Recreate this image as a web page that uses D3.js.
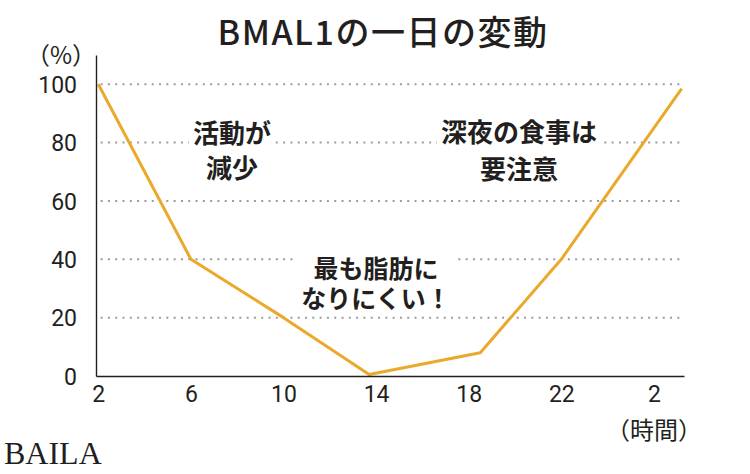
<!DOCTYPE html>
<html>
<head>
<meta charset="utf-8">
<script src="https://cdn.jsdelivr.net/npm/d3@7"></script>
<style>
  html, body { margin: 0; padding: 0; background: #fff; }
  svg { display: block; }
</style>
</head>
<body>
<div id="chart"></div>
<script>
// データ
var hours = [2, 6, 10, 13.7, 18.5, 22, 27.2]
var bmal1 = [100, 40, 20, 0.5, 8, 40, 98.5]
var yTicks = [0, 20, 40, 60, 80, 100]
var gridValues = [20, 40, 60, 80, 100]
var xTicks = [2, 6, 10, 14, 18, 22, 26]
var xTickLabels = ['2', '6', '10', '14', '18', '22', '2']
var noteLines = [
  ['活動が', '減少'],
  ['深夜の食事は', '要注意'],
  ['最も脂肪に', 'なりにくい！']
]

var width = 750, height = 474
var ink = '#231f20'
var lineColor = '#eaa92a'
var jp = '"Noto Sans CJK JP", "Noto Sans", sans-serif'
var num = '"Liberation Sans Narrow", "Roboto", sans-serif'

var svg = d3.select('#chart')
  .append('svg')
  .attr('width', width)
  .attr('height', height)

var x = d3.scaleLinear().domain([1.9, 27.3]).range([96, 684])
var y = d3.scaleLinear().domain([0, 110]).range([376, 55])

// タイトル
svg.append('text')
  .attr('x', 383)
  .attr('y', 45)
  .attr('text-anchor', 'middle')
  .attr('fill', ink)
  .style('font-family', jp)
  .style('font-size', '34px')
  .style('font-weight', 500)
  .style('letter-spacing', '1.5px')
  .text('BMAL1の一日の変動')

// 点線のグリッド
svg.append('g')
  .selectAll('line')
  .data(gridValues)
  .enter()
  .append('line')
  .attr('x1', x(2.1))
  .attr('x2', x(27.2))
  .attr('y1', d => y(d))
  .attr('y2', d => y(d))
  .attr('stroke', '#9c9c9c')
  .attr('stroke-width', 2)
  .attr('stroke-dasharray', '2,5.3')

// 注釈（白い背景でグリッドを隠す）
var notePos = [
  {cx: 232, cy: 131, gap: 35, size: 26},
  {cx: 519, cy: 130, gap: 37, size: 26},
  {cx: 376, cy: 267, gap: 30, size: 25}
]
noteLines.forEach(function(lines, i) {
  var p = notePos[i]
  var g = svg.append('g')
  var t = g.selectAll('text')
    .data(lines)
    .enter()
    .append('text')
    .attr('x', p.cx)
    .attr('y', (d, j) => p.cy + j * p.gap)
    .attr('text-anchor', 'middle')
    .attr('dominant-baseline', 'central')
    .attr('fill', ink)
    .style('font-family', jp)
    .style('font-size', p.size + 'px')
    .style('font-weight', 700)
    .text(d => d)
  var b = g.node().getBBox()
  g.insert('rect', 'text')
    .attr('x', b.x - 4)
    .attr('y', b.y + 4)
    .attr('width', b.width + 8)
    .attr('height', b.height - 8)
    .attr('fill', '#fff')
})

// 折れ線
var points = hours.map((h, i) => [h, bmal1[i]])
svg.append('path')
  .datum(points)
  .attr('fill', 'none')
  .attr('stroke', lineColor)
  .attr('stroke-width', 3)
  .attr('stroke-linejoin', 'round')
  .attr('d', d3.line().x(d => x(d[0])).y(d => y(d[1])))

// 軸
var yAxis = svg.append('g')
  .attr('transform', 'translate(' + x(1.9) + ',0)')
  .call(d3.axisLeft(y).tickValues(yTicks).tickSize(0).tickPadding(19))
var xAxis = svg.append('g')
  .attr('transform', 'translate(0,' + y(0) + ')')
  .call(d3.axisBottom(x).tickValues(xTicks).tickSize(0).tickPadding(10)
    .tickFormat((d, i) => xTickLabels[i]))

;[xAxis, yAxis].forEach(function(a) {
  a.select('.domain').attr('stroke', ink).attr('stroke-width', 1.4)
  a.selectAll('text')
    .attr('fill', ink)
    .style('font-family', num)
    .style('font-size', '23px')
})
yAxis.selectAll('text').attr('dy', '0.36em')
xAxis.selectAll('text').attr('dy', '0.71em')

// 単位
svg.append('text')
  .attr('x', 61)
  .attr('y', 53)
  .attr('text-anchor', 'middle')
  .attr('dominant-baseline', 'central')
  .attr('fill', ink)
  .style('font-family', jp)
  .style('font-size', '24px')
  .text('（%）')

svg.append('text')
  .attr('x', 654)
  .attr('y', 428)
  .attr('text-anchor', 'middle')
  .attr('dominant-baseline', 'central')
  .attr('fill', ink)
  .style('font-family', jp)
  .style('font-size', '24px')
  .text('（時間）')

// ロゴ
svg.append('text')
  .attr('x', 4)
  .attr('y', 464)
  .attr('fill', ink)
  .style('font-family', '"Liberation Serif", "DejaVu Serif", serif')
  .style('font-size', '32px')
  .text('BAILA')
</script>
</body>
</html>
